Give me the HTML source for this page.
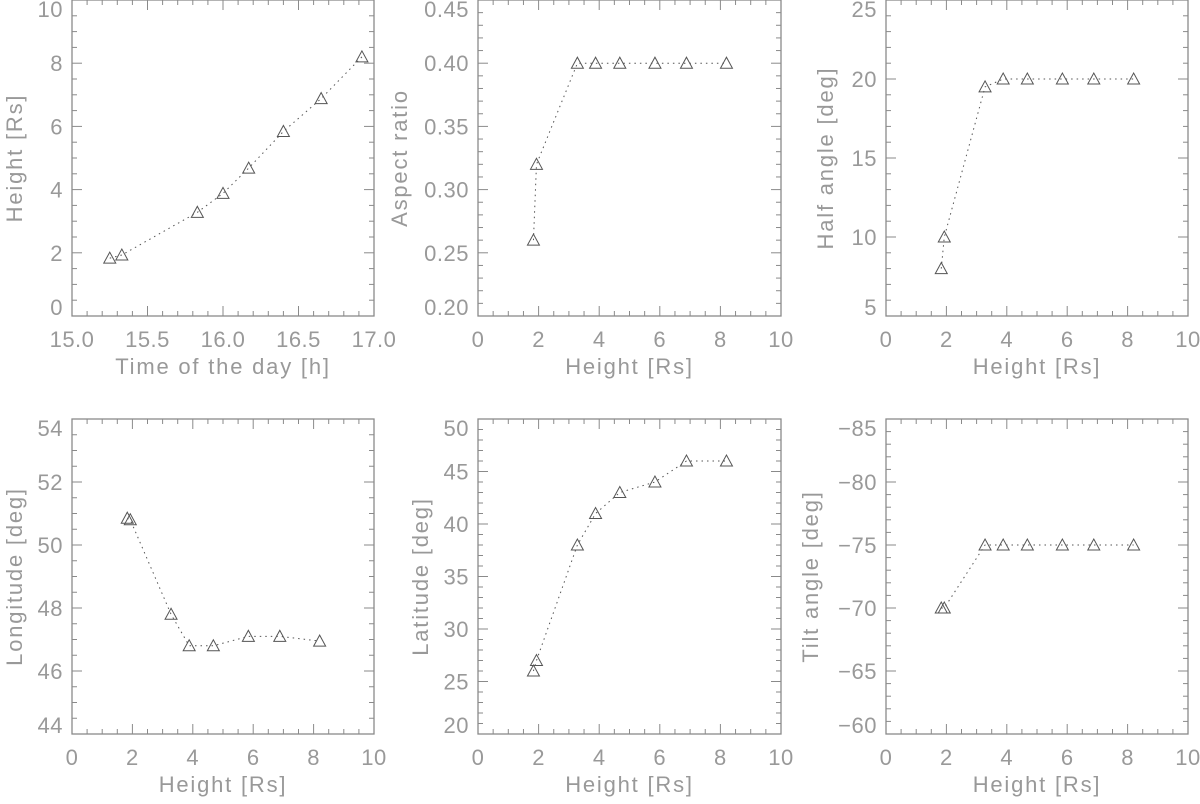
<!DOCTYPE html>
<html><head><meta charset="utf-8"><style>
body{margin:0;background:#fff;}
svg text{font-family:"Liberation Sans",sans-serif;fill:#999;}
</style></head><body>
<svg id="c" width="1200" height="799" xmlns="http://www.w3.org/2000/svg"></svg>
<script>
const times=[15.25,15.33,15.83,16.0,16.17,16.40,16.65,16.92];
const heights=[1.83,1.93,3.28,3.88,4.68,5.84,6.88,8.20];
const aspect=[0.26,0.32,0.40,0.40,0.40,0.40,0.40,0.40];
const halfAngle=[8,10,19.5,20,20,20,20,20];
const longitude=[50.85,50.8,47.8,46.8,46.8,47.1,47.1,46.95];
const latitude=[26,27,38,41,43,44,46,46];
const tilt=[-70,-70,-75,-75,-75,-75,-75,-75];
const xTicksTime=["15.0","15.5","16.0","16.5","17.0"];
const xTicksH=["0","2","4","6","8","10"];
const yTicksHeight=["0","2","4","6","8","10"];
const yTicksAspect=["0.20","0.25","0.30","0.35","0.40","0.45"];
const yTicksHalf=["5","10","15","20","25"];
const yTicksLon=["44","46","48","50","52","54"];
const yTicksLat=["20","25","30","35","40","45","50"];
const yTicksTilt=["-60","-65","-70","-75","-80","-85"];

const svg=document.getElementById('c');
const NS='http://www.w3.org/2000/svg';
function mk(t,a,p){const e=document.createElementNS(NS,t);for(const k in a)e.setAttribute(k,a[k]);(p||svg).appendChild(e);return e;}

const panels=[
 {id:'height-vs-time',x0:72,x1:374,y0:0,y1:316,xr:[15,17],xmin:0.1,xt:xTicksTime,yr:[0,10],ymin:0.5,yt:yTicksHeight,xs:times,ys:heights,xl:'Time of the day [h]',yl:'Height [Rs]',ylx:14},
 {id:'aspect-ratio',x0:478,x1:781,y0:0,y1:316,xr:[0,10],xmin:0.5,xt:xTicksH,yr:[0.2,0.45],ymin:0.01,yt:yTicksAspect,xs:heights,ys:aspect,xl:'Height [Rs]',yl:'Aspect ratio',ylx:399},
 {id:'half-angle',x0:886,x1:1188,y0:0,y1:316,xr:[0,10],xmin:0.5,xt:xTicksH,yr:[5,25],ymin:1,yt:yTicksHalf,xs:heights,ys:halfAngle,xl:'Height [Rs]',yl:'Half angle [deg]',ylx:825},
 {id:'longitude',x0:72,x1:374,y0:419,y1:734,xr:[0,10],xmin:0.5,xt:xTicksH,yr:[44,54],ymin:0.5,yt:yTicksLon,xs:heights,ys:longitude,xl:'Height [Rs]',yl:'Longitude [deg]',ylx:14},
 {id:'latitude',x0:478,x1:781,y0:419,y1:734,xr:[0,10],xmin:0.5,xt:xTicksH,yr:[20,50],ymin:1,yt:yTicksLat,xs:heights,ys:latitude,xl:'Height [Rs]',yl:'Latitude [deg]',ylx:420},
 {id:'tilt-angle',x0:886,x1:1188,y0:419,y1:734,xr:[0,10],xmin:0.5,xt:xTicksH,yr:[-60,-85],ymin:-1,yt:yTicksTilt,xs:heights,ys:tilt,xl:'Height [Rs]',yl:'Tilt angle [deg]',ylx:810}
];

panels.forEach(p=>{
 const g=mk('g',{});
 
 
 const X=v=>p.x0+(v-p.xr[0])/(p.xr[1]-p.xr[0])*(p.x1-p.x0);
 const Y=v=>p.y1-(v-p.yr[0])/(p.yr[1]-p.yr[0])*(p.y1-p.y0);
 const st='#8a8a8a';
 const box=mk('rect',{x:p.x0,y:p.y0,width:p.x1-p.x0,height:p.y1-p.y0,fill:'none',stroke:st,'stroke-width':1.3},g);
 
 
 const xn=Math.round((p.xr[1]-p.xr[0])/p.xmin);
 const xmajEvery=Math.round(((p.xr[1]-p.xr[0])/(p.xt.length-1))/p.xmin);
 for(let i=0;i<=xn;i++){const x=p.x0+i*(p.x1-p.x0)/xn;const L=(i%xmajEvery==0)?10:5;
  mk('line',{x1:x,x2:x,y1:p.y1,y2:p.y1-L,stroke:st},g);mk('line',{x1:x,x2:x,y1:p.y0,y2:p.y0+L,stroke:st},g);}
 p.xt.forEach((t,i)=>{const tx=mk('text',{x:X(parseFloat(t)),y:p.y1+31,'font-size':22,'text-anchor':'middle','letter-spacing':'0.5'},g);tx.textContent=t;
  });
 const xl=mk('text',{x:(p.x0+p.x1)/2,y:p.y1+58,'font-size':22,'text-anchor':'middle','letter-spacing':'1.8'},g);xl.textContent=p.xl;
 
 const ys=Math.abs(p.yr[1]-p.yr[0]),yn=Math.round(ys/Math.abs(p.ymin));
 const ymajEvery=Math.round((ys/(p.yt.length-1))/Math.abs(p.ymin));
 for(let i=0;i<=yn;i++){const y=p.y1-i*(p.y1-p.y0)/yn;const L=(i%ymajEvery==0)?10:5;
  mk('line',{x1:p.x0,x2:p.x0+L,y1:y,y2:y,stroke:st},g);mk('line',{x1:p.x1,x2:p.x1-L,y1:y,y2:y,stroke:st},g);}
 p.yt.forEach((t,i)=>{let y=Y(parseFloat(t))+8;y=Math.max(p.y0+17,Math.min(p.y1-1,y));
  const tx=mk('text',{x:p.x0-9,y:y,'font-size':22,'text-anchor':'end','letter-spacing':'0.5'},g);tx.textContent=t.replace('-','\u2212');
  });
 const cy=(p.y0+p.y1)/2;
 const yl=mk('text',{x:p.ylx,y:cy,'font-size':22,'text-anchor':'middle','letter-spacing':'1.8',transform:`rotate(-90 ${p.ylx} ${cy}) translate(0 8)`},g);yl.textContent=p.yl;
 
 const pts=p.xs.map((v,i)=>X(v)+','+Y(p.ys[i])).join(' ');
 const ln=mk('polyline',{points:pts,fill:'none',stroke:'#555','stroke-width':1,'stroke-dasharray':'1.5 4'},g);
 
 p.xs.forEach((v,i)=>{const cx=X(v),c=Y(p.ys[i]);
  const tr=mk('polygon',{points:`${cx-6},${c+5} ${cx+6},${c+5} ${cx},${c-6}`,fill:'none',stroke:'#555','stroke-width':1},g);
  });
});
</script>
</body></html>
